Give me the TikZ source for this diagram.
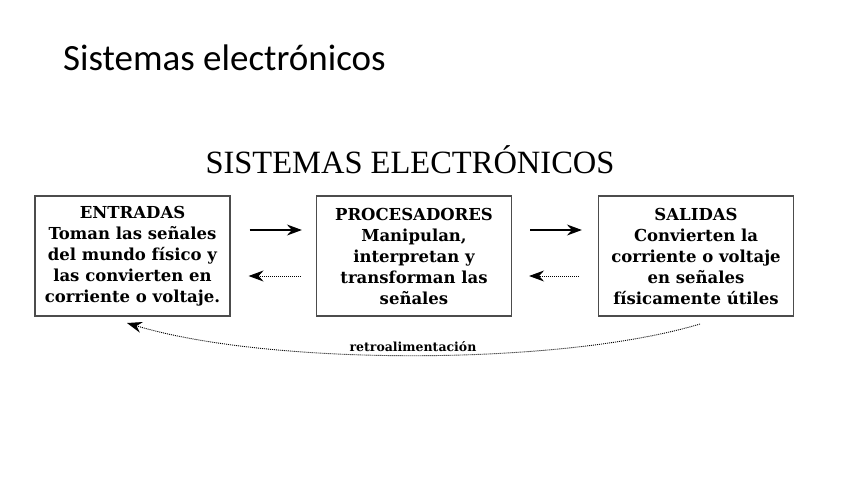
\documentclass[tikz,border=0pt]{standalone}
\usepackage{fontspec}
\usetikzlibrary{arrows.meta}
\newfontfamily\titlefont{Carlito}
\newfontfamily\headfont{Liberation Serif}
\newfontfamily\boxfont{DejaVu Serif}
\begin{document}
\begin{tikzpicture}[x=1pt,y=-1pt,
  blockbox/.style={draw=black!70, line width=1.2pt, minimum width=195pt, minimum height=120pt,
    inner sep=0pt, align=center, font={\boxfont\bfseries\fontsize{16.5}{21}\selectfont}},
  fwd/.style={line width=1.2pt, -{Stealth[length=15pt,width=11pt,inset=5pt]}},
  bwd/.style={line width=0.9pt, dash pattern=on 1pt off 1pt, -{Stealth[length=15pt,width=11pt,inset=5pt]}},
]
\useasboundingbox[fill=white] (0,0) rectangle (848,477);
\node[anchor=base west, inner sep=0pt, font={\titlefont\fontsize{37}{40}\selectfont}] (title) at (63,70) {Sistemas electrónicos};
\node[anchor=base, font={\headfont\fontsize{32.5}{34}\selectfont}] (head) at (410,173) {SISTEMAS ELECTRÓNICOS};
\node[blockbox] (in) at (132.5,256) {ENTRADAS\\Toman las señales\\del mundo físico y\\las convierten en\\corriente o voltaje.};
\node[blockbox] (proc) at (414,256) {PROCESADORES\\Manipulan,\\interpretan y\\transforman las\\señales};
\node[blockbox] (out) at (696,256) {SALIDAS\\Convierten la\\corriente o voltaje\\en señales\\físicamente útiles};
\draw[fwd, shorten <=19pt, shorten >=14pt] ([yshift=26pt]in.east) -- ([yshift=26pt]proc.west);
\draw[bwd, shorten <=15pt, shorten >=18pt] ([yshift=-20pt]proc.west) -- ([yshift=-20pt]in.east);
\draw[fwd, shorten <=18pt, shorten >=16pt] ([yshift=26pt]proc.east) -- ([yshift=26pt]out.west);
\draw[bwd, shorten <=19pt, shorten >=17pt] ([yshift=-20pt]out.west) -- ([yshift=-20pt]proc.east);
\coordinate (fbs) at (700,324);
\coordinate (fbe) at (127,323);
\draw[bwd] (fbs) .. controls (560,366) and (270,366) .. (fbe);
\node[anchor=base, font={\boxfont\bfseries\fontsize{12.5}{14}\selectfont}] (fb) at (413,351) {retroalimentación};
\end{tikzpicture}
\end{document}
